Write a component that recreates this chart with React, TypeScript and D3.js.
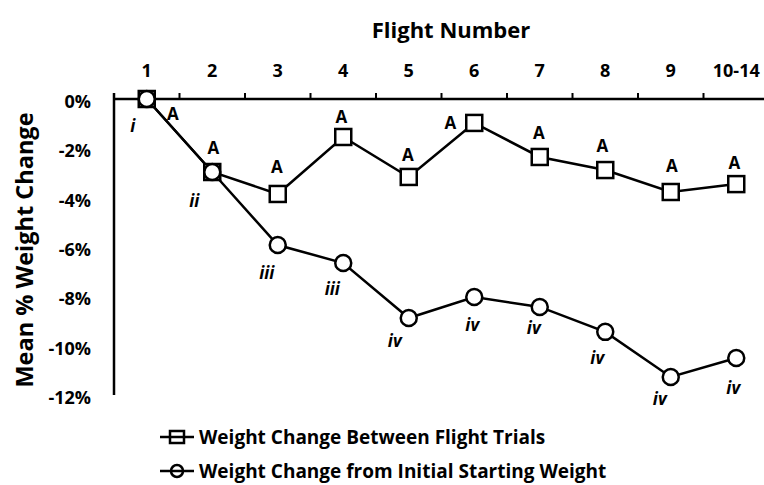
import React from "react";
import * as d3 from "d3";

const categories = ["1", "2", "3", "4", "5", "6", "7", "8", "9", "10-14"];
const betweenTrials = [0, -2.96, -3.85, -1.54, -3.16, -0.97, -2.35, -2.88, -3.77, -3.45];
const fromInitial = [0, -2.96, -5.92, -6.65, -8.88, -8.03, -8.43, -9.44, -11.27, -10.5];
const betweenLabels = ["A", "A", "A", "A", "A", "A", "A", "A", "A", "A"];
const initialLabels = ["i", "ii", "iii", "iii", "iv", "iv", "iv", "iv", "iv", "iv"];
const yTicks = [0, -2, -4, -6, -8, -10, -12];

// label offsets (layout)
const aOffsets: [number, number][] = [[26, 14], [1, -25], [-1, -27], [-2, -20], [-1, -22], [-24, 0], [-1, -24], [-3, -25], [1, -26], [-2, -22]];
const rOffsets: [number, number][] = [[-14, 26], [-18, 28], [-11, 27], [-11, 25], [-14, 22], [-2, 27], [-6, 21], [-8, 26], [-11, 22], [-3, 29]];

const FONT = "'Open Sans', sans-serif";

export default function App() {
  const W = 764, H = 485;
  const x = d3.scaleBand<string>().domain(categories).range([114, 769]).padding(0);
  const y = d3.scaleLinear().domain([-12, 0]).range([395, 99]);
  const cx = (c: string) => (x(c) as number) + x.bandwidth() / 2;
  const line = d3.line<number>().x((_, i) => cx(categories[i])).y((d) => y(d));
  const boundaries = categories.map((c) => x(c) as number);

  return (
    <svg width={W} height={H} style={{ position: "absolute", left: 0, top: 0, background: "#fff" }} fontFamily={FONT}>
      {/* title */}
      <text x={451} y={29} textAnchor="middle" dominantBaseline="central" fontWeight={700} fontSize={22}>Flight Number</text>
      {/* y title */}
      <text transform="translate(24,250) rotate(-90)" textAnchor="middle" dominantBaseline="central" fontWeight={700} fontSize={23.5}>Mean % Weight Change</text>

      {/* x tick labels */}
      {categories.map((c) => (
        <text key={c} x={cx(c)} y={70} textAnchor="middle" dominantBaseline="central" fontWeight={700} fontSize={18}>{c}</text>
      ))}
      {/* y tick labels */}
      {yTicks.map((t) => (
        <text key={t} x={91} y={y(t) + 2} textAnchor="end" dominantBaseline="central" fontWeight={700} fontSize={18}>{`${t}%`}</text>
      ))}

      {/* axes */}
      <line x1={114} x2={769} y1={y(0)} y2={y(0)} stroke="#000" strokeWidth={2.5} />
      <line x1={114} x2={114} y1={93} y2={y(-12)} stroke="#000" strokeWidth={2.5} />
      {boundaries.map((b, i) => (
        <line key={i} x1={b} x2={b} y1={93} y2={y(0)} stroke="#000" strokeWidth={2} />
      ))}

      {/* series lines */}
      <path d={line(fromInitial) || ""} fill="none" stroke="#000" strokeWidth={2.5} />
      <path d={line(betweenTrials) || ""} fill="none" stroke="#000" strokeWidth={2.5} />

      {/* square markers */}
      {betweenTrials.map((v, i) => (
        <rect key={"s" + i} x={cx(categories[i]) - 8} y={y(v) - 8} width={16} height={16} fill="#fff" stroke="#000" strokeWidth={2.5} />
      ))}
      {/* circle markers */}
      {fromInitial.map((v, i) => (
        <circle key={"c" + i} cx={cx(categories[i])} cy={y(v)} r={8} fill="#fff" stroke="#000" strokeWidth={2.5} />
      ))}

      {/* labels */}
      {betweenLabels.map((l, i) => (
        <text key={"a" + i} x={cx(categories[i]) + aOffsets[i][0]} y={y(betweenTrials[i]) + aOffsets[i][1]} textAnchor="middle" dominantBaseline="central" fontWeight={700} fontSize={17}>{l}</text>
      ))}
      {initialLabels.map((l, i) => (
        <text key={"r" + i} x={cx(categories[i]) + rOffsets[i][0]} y={y(fromInitial[i]) + rOffsets[i][1]} textAnchor="middle" dominantBaseline="central" fontWeight={700} fontStyle="italic" fontSize={17}>{l}</text>
      ))}

      {/* legend */}
      <g>
        <line x1={160} x2={194} y1={437} y2={437} stroke="#000" strokeWidth={2.5} />
        <rect x={170} y={431} width={14} height={12} fill="none" stroke="#000" strokeWidth={2.5} />
        <text x={199} y={437} dominantBaseline="central" fontWeight={700} fontSize={19}>Weight Change Between Flight Trials</text>
        <line x1={160} x2={194} y1={471} y2={471} stroke="#000" strokeWidth={2.5} />
        <circle cx={177} cy={471} r={6} fill="none" stroke="#000" strokeWidth={2.5} />
        <text x={199} y={471} dominantBaseline="central" fontWeight={700} fontSize={19}>Weight Change from Initial Starting Weight</text>
      </g>
    </svg>
  );
}
